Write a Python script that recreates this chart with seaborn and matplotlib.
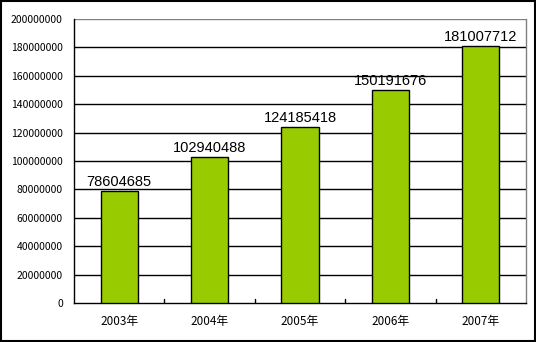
import matplotlib
matplotlib.use("Agg")
import matplotlib.pyplot as plt
import seaborn as sns
import pandas as pd
from matplotlib.patches import Rectangle

categories = ["2003年", "2004年", "2005年", "2006年", "2007年"]
values = [78604685, 102940488, 124185418, 150191676, 181007712]
yticks = list(range(0, 200000001, 20000000))

sns.set_theme(style="white")
plt.rcParams['font.family'] = ['Noto Sans CJK SC', 'DejaVu Sans']

df = pd.DataFrame({"year": categories, "value": values})

fig = plt.figure(figsize=(5.36, 3.42), dpi=100)
ax = fig.add_axes([74/536, 39/342, 452/536, 284/342])

sns.barplot(data=df, x="year", y="value", ax=ax, color="#99CC00",
            edgecolor="black", linewidth=1, width=0.41, saturation=1, zorder=3)

ax.set_ylim(0, 200000000)
ax.set_xlim(-0.5, 4.5)
ax.set_yticks(yticks)
ax.set_yticklabels([str(v) for v in yticks], fontsize=7.5, color="black")
ax.tick_params(axis="y", length=0, pad=8)
ax.tick_params(axis="x", length=0, pad=9, labelsize=8.5, colors="black")
for v in yticks[1:-1]:
    ax.axhline(v, color="black", lw=1, zorder=1)
ax.axhline(200000000, color="#808080", lw=1, zorder=1)
# category boundary ticks
for b in [0.5, 1.5, 2.5, 3.5]:
    ax.plot([b, b], [0, 3000000], color="black", lw=1, zorder=2)

for i, v in enumerate(values):
    ax.text(i, v + 1500000, str(v), ha="center", va="bottom", fontsize=10.5,
            family=["Liberation Sans"], color="black")

ax.set_xlabel("")
ax.set_ylabel("")
for s in ["left", "bottom"]:
    ax.spines[s].set_color("black")
    ax.spines[s].set_linewidth(1)
ax.spines["top"].set_visible(False)
ax.spines["right"].set_color("#808080")
ax.spines["right"].set_linewidth(1)

fig.patches.append(Rectangle((0.001, 0.002), 0.997, 0.995, transform=fig.transFigure,
                             fill=False, edgecolor="black", lw=1.5))

fig.savefig("out.png", dpi=100)
